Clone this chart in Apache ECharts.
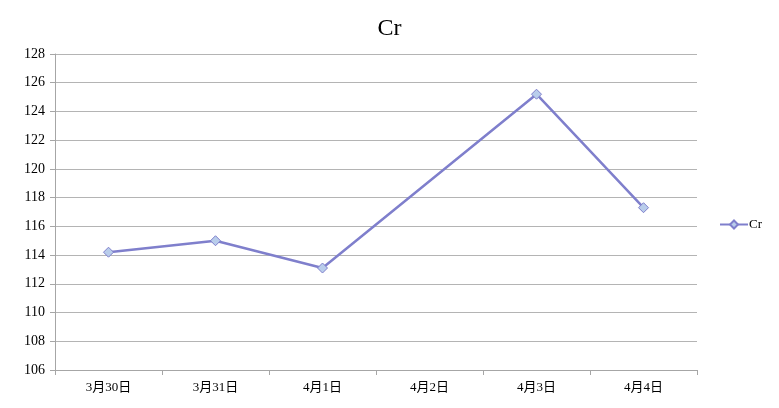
<!DOCTYPE html>
<html>
<head>
<meta charset="utf-8">
<script src="https://cdn.jsdelivr.net/npm/echarts@6/dist/echarts.min.js"></script>
<style>
  html, body { margin: 0; padding: 0; background: #fff; }
  #chart { width: 779px; height: 408px; }
</style>
</head>
<body>
<div id="chart"></div>
<script>
const categories = ['3月30日', '3月31日', '4月1日', '4月2日', '4月3日', '4月4日']
// no reading on 4月2日, Excel draws straight across the gap
const crValues = [114.2, 115.0, 113.1, null, 125.2, 117.3]
const yTicks = { min: 106, max: 128, step: 2 }

const font = '"Liberation Serif", "Noto Sans CJK SC", serif'
const chart = echarts.init(document.getElementById('chart'))

chart.setOption({
  backgroundColor: '#fff',
  animation: false,
  title: {
    text: 'Cr',
    left: 'center',
    top: 12,
    textStyle: { fontFamily: font, fontSize: 24, fontWeight: 'normal', color: '#000' }
  },
  legend: {
    data: ['Cr'],
    orient: 'vertical',
    left: 714,
    top: 213,
    itemWidth: 28,
    itemHeight: 10,
    itemGap: 2,
    textStyle: { fontFamily: font, fontSize: 13, color: '#000', padding: [0, 0, 0, -4] }
  },
  grid: { left: 55, right: 82, top: 54, bottom: 38 },
  xAxis: {
    type: 'category',
    data: categories,
    boundaryGap: true,
    axisLine: { lineStyle: { color: '#a6a6a6', width: 1 } },
    axisTick: { show: true, alignWithLabel: false, length: 5, lineStyle: { color: '#a6a6a6' } },
    axisLabel: { fontFamily: font, fontSize: 13, color: '#000', margin: 11 }
  },
  yAxis: {
    type: 'value',
    min: yTicks.min,
    max: yTicks.max,
    interval: yTicks.step,
    axisLine: { show: true, lineStyle: { color: '#a6a6a6', width: 1 } },
    axisTick: { show: true, length: 5, lineStyle: { color: '#a6a6a6' } },
    axisLabel: { fontFamily: font, fontSize: 14, color: '#000', margin: 10 },
    splitLine: { show: true, lineStyle: { color: '#b4b4b4', width: 1 } }
  },
  series: [
    {
      name: 'Cr',
      type: 'line',
      data: crValues,
      connectNulls: true,
      symbol: 'diamond',
      symbolSize: 10,
      lineStyle: { color: '#7f7fcc', width: 2.5 },
      itemStyle: { color: '#b9cdeb', borderColor: '#7f7fcc', borderWidth: 1 }
    }
  ]
})
</script>
</body>
</html>
